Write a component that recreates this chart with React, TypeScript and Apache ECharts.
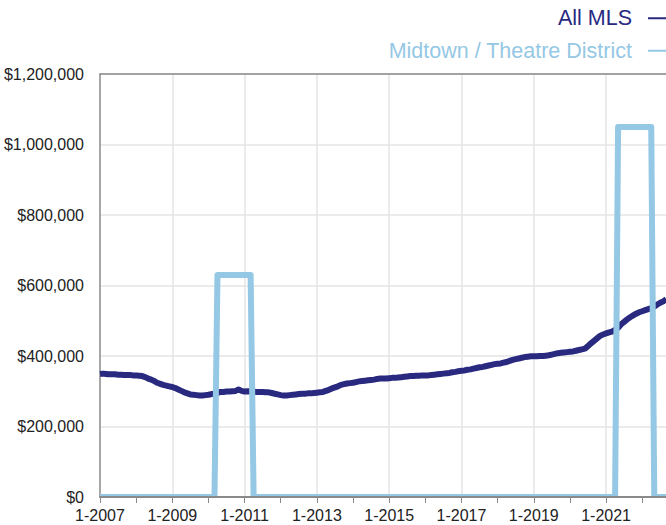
import React, { useEffect, useRef } from "react";
import * as echarts from "echarts";

const FONT = "'Liberation Sans', Arial, Helvetica, sans-serif";

const SERIES_NAMES = ["All MLS", "Midtown / Theatre District"];
const SERIES_COLORS = ["#28297f", "#95c8e4"];

const YEARS = [2007, 2008, 2009, 2010, 2011, 2012, 2013, 2014, 2015, 2016, 2017, 2018, 2019, 2020, 2021, 2022];
const LAST_MONTH = 9; // data ends 9-2022

const categories: string[] = [];
YEARS.forEach((y) => {
  for (let m = 1; m <= 12; m++) {
    if (y === 2022 && m > LAST_MONTH) break;
    categories.push(`${m}-${y}`);
  }
});

// All MLS median price, monthly
const allMls2007 = [349000, 350000, 349000, 348000, 348000, 348000, 347000, 347000, 346000, 346000, 346000, 345000];
const allMls2008 = [345000, 344000, 343000, 340000, 336000, 333000, 329000, 324000, 321000, 318000, 316000, 314000];
const allMls2009 = [312000, 309000, 305000, 301000, 297000, 294000, 291000, 290000, 289000, 288000, 288000, 289000];
const allMls2010 = [290000, 292000, 293000, 295000, 298000, 298000, 299000, 299000, 300000, 301000, 305000, 301000];
const allMls2011 = [299000, 300000, 299000, 299000, 298000, 298000, 298000, 297000, 297000, 295000, 293000, 291000];
const allMls2012 = [289000, 288000, 288000, 289000, 290000, 291000, 292000, 293000, 293000, 294000, 294000, 295000];
const allMls2013 = [296000, 297000, 298000, 301000, 304000, 308000, 311000, 314000, 318000, 320000, 322000, 323000];
const allMls2014 = [324000, 326000, 328000, 329000, 330000, 331000, 332000, 333000, 335000, 336000, 336000, 336000];
const allMls2015 = [337000, 338000, 338000, 339000, 340000, 341000, 342000, 343000, 343000, 344000, 344000, 345000];
const allMls2016 = [345000, 345000, 346000, 347000, 348000, 349000, 350000, 351000, 352000, 354000, 355000, 357000];
const allMls2017 = [358000, 359000, 361000, 362000, 364000, 366000, 368000, 369000, 371000, 373000, 375000, 377000];
const allMls2018 = [378000, 379000, 381000, 383000, 386000, 389000, 391000, 393000, 395000, 397000, 398000, 399000];
const allMls2019 = [399000, 399000, 400000, 400000, 401000, 402000, 404000, 406000, 408000, 409000, 410000, 411000];
const allMls2020 = [412000, 413000, 415000, 417000, 419000, 421000, 428000, 436000, 443000, 450000, 457000, 461000];
const allMls2021 = [464000, 467000, 469000, 474000, 480000, 490000, 497000, 504000, 510000, 515000, 520000, 524000];
const allMls2022 = [527000, 530000, 533000, 536000, 540000, 546000, 551000, 555000, 561000];

// Midtown / Theatre District median price, monthly
const mid2007 = [0, 0, 0, 0, 0, 0, 0, 0, 0, 0, 0, 0];
const mid2008 = [0, 0, 0, 0, 0, 0, 0, 0, 0, 0, 0, 0];
const mid2009 = [0, 0, 0, 0, 0, 0, 0, 0, 0, 0, 0, 0];
const mid2010 = [0, 0, 0, 630000, 630000, 630000, 630000, 630000, 630000, 630000, 630000, 630000];
const mid2011 = [630000, 630000, 630000, 0, 0, 0, 0, 0, 0, 0, 0, 0];
const mid2012 = [0, 0, 0, 0, 0, 0, 0, 0, 0, 0, 0, 0];
const mid2013 = [0, 0, 0, 0, 0, 0, 0, 0, 0, 0, 0, 0];
const mid2014 = [0, 0, 0, 0, 0, 0, 0, 0, 0, 0, 0, 0];
const mid2015 = [0, 0, 0, 0, 0, 0, 0, 0, 0, 0, 0, 0];
const mid2016 = [0, 0, 0, 0, 0, 0, 0, 0, 0, 0, 0, 0];
const mid2017 = [0, 0, 0, 0, 0, 0, 0, 0, 0, 0, 0, 0];
const mid2018 = [0, 0, 0, 0, 0, 0, 0, 0, 0, 0, 0, 0];
const mid2019 = [0, 0, 0, 0, 0, 0, 0, 0, 0, 0, 0, 0];
const mid2020 = [0, 0, 0, 0, 0, 0, 0, 0, 0, 0, 0, 0];
const mid2021 = [0, 0, 0, 0, 1050000, 1050000, 1050000, 1050000, 1050000, 1050000, 1050000, 1050000];
const mid2022 = [1050000, 1050000, 1050000, 1050000, 0, 0, 0, 0, 0];

const allMls = [
  ...allMls2007, ...allMls2008, ...allMls2009, ...allMls2010, ...allMls2011, ...allMls2012,
  ...allMls2013, ...allMls2014, ...allMls2015, ...allMls2016, ...allMls2017, ...allMls2018,
  ...allMls2019, ...allMls2020, ...allMls2021, ...allMls2022,
];
const midtown = [
  ...mid2007, ...mid2008, ...mid2009, ...mid2010, ...mid2011, ...mid2012,
  ...mid2013, ...mid2014, ...mid2015, ...mid2016, ...mid2017, ...mid2018,
  ...mid2019, ...mid2020, ...mid2021, ...mid2022,
];

const Y_MIN = 0;
const Y_MAX = 1200000;
const Y_INTERVAL = 200000;

const CHART_W = 700;
const CHART_H = 525;
const PLOT_LEFT = 100;
const PLOT_RIGHT_X = 666.3;
const PLOT_TOP = 74;
const PLOT_BOTTOM_Y = 497;

const AXIS_COLOR = "#8a8a8a";
const GRID_COLOR = "#e4e4e4";
const TEXT_COLOR = "#222222";

export default function App() {
  const ref = useRef<HTMLDivElement>(null);

  useEffect(() => {
    if (!ref.current) return;
    const chart = echarts.init(ref.current, undefined, { renderer: "svg" });

    const legendGraphics: any[] = [];
    SERIES_NAMES.forEach((name, i) => {
      legendGraphics.push({
        type: "text",
        x: 632,
        y: 17.5 + i * 33,
        z: 20,
        style: {
          text: name,
          fill: SERIES_COLORS[i],
          fontSize: 21.5,
          fontFamily: FONT,
          align: "right",
          verticalAlign: "middle",
        },
      });
      legendGraphics.push({
        type: "line",
        z: 20,
        shape: { x1: 648, y1: 18.3 + i * 32.4, x2: 700, y2: 18.3 + i * 32.4 },
        style: { stroke: SERIES_COLORS[i], lineWidth: 2 },
      });
    });

    const option: any = {
      animation: false,
      backgroundColor: "#ffffff",
      textStyle: { fontFamily: FONT },
      grid: {
        left: PLOT_LEFT,
        right: CHART_W - PLOT_RIGHT_X,
        top: PLOT_TOP,
        bottom: CHART_H - PLOT_BOTTOM_Y,
        containLabel: false,
      },
      xAxis: [
        {
          type: "category",
          data: categories,
          boundaryGap: false,
          position: "bottom",
          z: 10,
          axisLine: { show: true, lineStyle: { color: AXIS_COLOR, width: 2 } },
          axisTick: {
            show: true,
            length: 6,
            interval: (i: number) => i % 12 === 0,
            lineStyle: { color: AXIS_COLOR, width: 1 },
          },
          axisLabel: {
            interval: (i: number) => i % 24 === 0,
            color: TEXT_COLOR,
            fontSize: 16,
            fontFamily: FONT,
            margin: 10,
          },
          splitLine: { show: false },
        },
        {
          type: "category",
          data: categories,
          boundaryGap: false,
          position: "top",
          z: 0,
          axisLine: { show: true, lineStyle: { color: AXIS_COLOR, width: 1.5 } },
          axisTick: { show: false },
          axisLabel: { show: false },
          splitLine: {
            show: true,
            interval: (i: number) => i % 24 === 0 && i > 0,
            lineStyle: { color: GRID_COLOR, width: 1.5 },
          },
        },
      ],
      yAxis: {
        type: "value",
        min: Y_MIN,
        max: Y_MAX,
        interval: Y_INTERVAL,
        axisLine: { show: true, lineStyle: { color: AXIS_COLOR, width: 1.5 } },
        axisTick: { show: false },
        axisLabel: {
          color: TEXT_COLOR,
          fontSize: 16,
          fontFamily: FONT,
          margin: 16,
          formatter: (v: number) => "$" + v.toLocaleString("en-US"),
        },
        splitLine: { show: true, lineStyle: { color: GRID_COLOR, width: 1.5 } },
      },
      graphic: [
        {
          type: "rect",
          z: 5,
          shape: { x: PLOT_LEFT, y: PLOT_BOTTOM_Y + 0.5, width: CHART_W - PLOT_LEFT, height: 4 },
          style: { fill: "#ffffff" },
        },
        ...legendGraphics,
      ],
      series: [
        {
          name: SERIES_NAMES[0],
          type: "line",
          data: allMls,
          xAxisIndex: 0,
          showSymbol: false,
          symbol: "none",
          z: 2,
          lineStyle: { color: SERIES_COLORS[0], width: 6, join: "round", cap: "butt" },
          itemStyle: { color: SERIES_COLORS[0] },
        },
        {
          name: SERIES_NAMES[1],
          type: "line",
          data: midtown,
          xAxisIndex: 0,
          showSymbol: false,
          symbol: "none",
          z: 3,
          lineStyle: { color: SERIES_COLORS[1], width: 6, join: "round", cap: "butt" },
          itemStyle: { color: SERIES_COLORS[1] },
        },
      ],
    };

    chart.setOption(option);
    return () => chart.dispose();
  }, []);

  return (
    <div
      style={{
        position: "fixed",
        left: 0,
        top: 0,
        width: 666,
        height: 525,
        overflow: "hidden",
        background: "#ffffff",
      }}
    >
      <div ref={ref} style={{ width: CHART_W, height: CHART_H }} />
    </div>
  );
}
